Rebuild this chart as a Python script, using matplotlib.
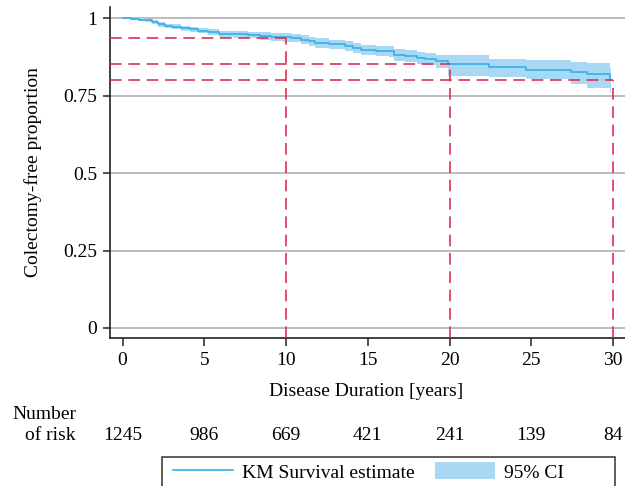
import matplotlib
matplotlib.use("Agg")
import matplotlib.pyplot as plt
from matplotlib.lines import Line2D
from matplotlib.patches import Patch, Rectangle
import matplotlib.transforms as mtransforms

plt.rcParams['font.family'] = ['Liberation Serif', 'DejaVu Serif']

# Kaplan-Meier step data
times = [0, 0.5, 1.0, 1.4, 1.8, 2.2, 2.6, 3.0, 3.6, 4.1, 4.6, 5.2, 5.9, 6.8, 7.7,
         8.4, 9.1, 9.8, 10.3, 10.9, 11.4, 11.8, 12.6, 13.6, 14.1, 14.6, 15.5,
         16.3, 16.6, 17.3, 18.0, 18.5, 19.2, 19.9, 22.4, 24.7, 27.4, 28.4, 29.8]
surv = [1.0, 0.998, 0.996, 0.993, 0.987, 0.980, 0.976, 0.972, 0.968, 0.964, 0.960,
        0.955, 0.950, 0.948, 0.946, 0.943, 0.940, 0.938, 0.935, 0.931, 0.926,
        0.920, 0.916, 0.911, 0.905, 0.898, 0.895, 0.893, 0.882, 0.877, 0.872,
        0.868, 0.861, 0.851, 0.842, 0.834, 0.825, 0.820, 0.800]
ci_upper = [1.0, 1.0, 1.0, 0.998, 0.993, 0.987, 0.983, 0.980, 0.976, 0.973, 0.969,
            0.965, 0.960, 0.959, 0.957, 0.955, 0.952, 0.951, 0.948, 0.945, 0.940,
            0.935, 0.931, 0.927, 0.921, 0.915, 0.912, 0.911, 0.901, 0.896, 0.892,
            0.888, 0.882, 0.882, 0.869, 0.866, 0.860, 0.855, 0.840]
ci_lower = [1.0, 0.995, 0.992, 0.988, 0.981, 0.973, 0.969, 0.964, 0.960, 0.955,
            0.951, 0.945, 0.940, 0.937, 0.935, 0.931, 0.928, 0.925, 0.922, 0.917,
            0.912, 0.905, 0.901, 0.895, 0.889, 0.881, 0.878, 0.875, 0.863, 0.858,
            0.852, 0.848, 0.840, 0.814, 0.809, 0.804, 0.787, 0.774, 0.758]
end_time = 29.85

# reference (dashed) lines
ref_times = [10, 20, 30]
ref_surv = [0.935, 0.851, 0.801]

# number at risk
risk_times = [0, 5, 10, 15, 20, 25, 30]
risk_counts = [1245, 986, 669, 421, 241, 139, 84]

yticks = [0, 0.25, 0.5, 0.75, 1]
yticklabels = ['0', '0.25', '0.5', '0.75', '1']
xticks = [0, 5, 10, 15, 20, 25, 30]

line_color = '#3aaee6'
fill_color = '#a8d8f4'
red = '#e0304f'
FS = 14

W, H = 625, 486
fig = plt.figure(figsize=(W / 100, H / 100), dpi=100)
ax = fig.add_axes([110 / W, 1 - 337.5 / H, 515 / W, 330.5 / H])

ax.set_xlim(-0.765, 30.73)
ax.set_ylim(-0.031, 1.0365)

# grid
for yt in yticks:
    ax.axhline(yt, color='#a9a9a9', lw=1.1, zorder=0)

# CI band and KM line
t_ext = times + [end_time]
ax.fill_between(t_ext, ci_lower + [ci_lower[-1]], ci_upper + [ci_upper[-1]],
                step='post', color=fill_color, lw=0, zorder=1)
ax.step(t_ext, surv + [surv[-1]], where='post', color=line_color, lw=1.2, zorder=2)

# dashed reference lines
x0 = ax.get_xlim()[0]
y0 = ax.get_ylim()[0]
for t, s in zip(ref_times, ref_surv):
    ax.plot([x0, t], [s, s], color=red, lw=1.2, dashes=(7, 4), zorder=3, clip_on=False)
    ax.plot([t, t], [y0, s], color=red, lw=1.2, dashes=(7, 4), zorder=3, clip_on=False)

for side in ['top', 'right']:
    ax.spines[side].set_visible(False)
for side in ['left', 'bottom']:
    ax.spines[side].set_linewidth(1.2)
    ax.spines[side].set_color('#222222')

ax.set_yticks(yticks)
ax.set_yticklabels(yticklabels)
ax.set_xticks(xticks)
ax.tick_params(axis='y', length=5.2, width=1.1, pad=4, labelsize=FS, color='#222222')
ax.tick_params(axis='x', length=5.5, width=1.1, pad=5, labelsize=FS, color='#222222')

fig.text(33 / W, 1 - 172 / H, 'Colectomy-free proportion', rotation=90,
         ha='center', va='center', fontsize=FS)
fig.text(366 / W, 1 - 391 / H, 'Disease Duration [years]', ha='center',
         va='center', fontsize=FS)

fig.text(76 / W, 1 - 414 / H, 'Number', ha='right', va='center', fontsize=FS)
fig.text(76 / W, 1 - 435 / H, 'of risk', ha='right', va='center', fontsize=FS)
trans = mtransforms.blended_transform_factory(ax.transData, fig.transFigure)
for t, n in zip(risk_times, risk_counts):
    ax.text(t, 1 - 435 / H, str(n), transform=trans, ha='center', va='center',
            fontsize=FS, clip_on=False)

# legend
handles = [Line2D([], [], color=line_color, lw=1.2),
           Patch(facecolor=fill_color, edgecolor='none')]
fig.legend(handles, ['KM Survival estimate', '95% CI'], ncol=2, frameon=False,
           loc='center left', bbox_to_anchor=(173 / W, 1 - 472 / H),
           borderpad=0, borderaxespad=0, fontsize=FS, handlelength=3.1,
           handletextpad=0.45, columnspacing=1.05, handleheight=0.95)
fig.patches.append(Rectangle((162 / W, 1 - 520 / H), (615 - 162) / W, 63 / H,
                             transform=fig.transFigure, fill=False,
                             edgecolor='#333333', lw=1.1))

fig.savefig('out.png', dpi=100)
